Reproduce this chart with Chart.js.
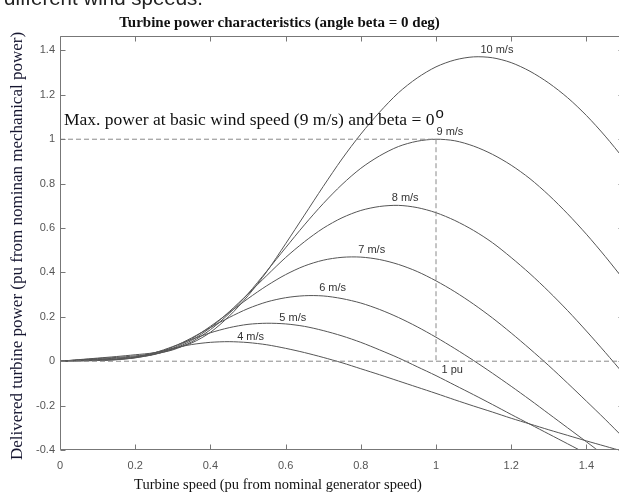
<!DOCTYPE html>
<html><head><meta charset="utf-8">
<script src="https://cdn.jsdelivr.net/npm/chart.js@4"></script>
<style>
html,body{margin:0;padding:0;background:#fff;overflow:hidden;}
#wrap{position:relative;width:619px;height:493px;overflow:hidden;background:#fff;}
canvas{position:absolute;left:0;top:0;}
.t{position:absolute;white-space:nowrap;text-align:center;}
</style></head><body>
<div id="wrap">
<canvas id="c" width="640" height="493" style="width:640px;height:493px"></canvas>
<div class="t" style="left:4px;top:-12px;font:20.5px 'Liberation Sans',Arial,sans-serif;line-height:20px;color:#222;text-align:left">different wind speeds.</div>
<div class="t" style="left:0;width:559px;top:13px;font:bold 15px 'Liberation Serif','Times New Roman',serif;line-height:18px;color:#111">Turbine power characteristics (angle beta = 0 deg)</div>
<div class="t" style="left:0;width:556px;top:475px;font:14.5px 'Liberation Serif','Times New Roman',serif;line-height:18px;color:#111">Turbine speed (pu from nominal generator speed)</div>
<div class="t" style="left:-233px;width:500px;top:236px;height:20px;font:17px 'Liberation Serif','Times New Roman',serif;line-height:20px;color:#161630;transform:rotate(-90deg)">Delivered turbine power (pu from nominan mechanical power)</div>
</div>
<script>
const speeds = [0,0.05,0.1,0.15,0.2,0.25,0.3,0.35,0.4,0.45,0.5,0.55,0.6,0.65,0.7,0.75,0.8,0.85,0.9,0.95,1,1.05,1.1,1.15,1.2,1.25,1.3,1.35,1.4,1.45,1.5];
const power4  = [0,0.001,0.003,0.007,0.019,0.038,0.058,0.075,0.085,0.088,0.084,0.074,0.058,0.039,0.017,-0.007,-0.034,-0.061,-0.089,-0.117,-0.145,-0.174,-0.202,-0.229,-0.257,-0.283,-0.309,-0.334,-0.359,-0.383,-0.407];
const power5  = [0,0.002,0.004,0.007,0.016,0.037,0.066,0.098,0.128,0.151,0.166,0.171,0.168,0.157,0.138,0.114,0.085,0.051,0.015,-0.025,-0.065,-0.108,-0.151,-0.195,-0.240,-0.284,-0.328,-0.372,-0.416,-0.458,-0.501];
const power6  = [0,0.003,0.005,0.008,0.015,0.032,0.064,0.105,0.152,0.197,0.237,0.267,0.286,0.295,0.294,0.282,0.262,0.233,0.197,0.155,0.108,0.057,0.003,-0.054,-0.113,-0.174,-0.237,-0.300,-0.363,-0.427,-0.491];
const power7  = [0,0.004,0.007,0.011,0.017,0.030,0.058,0.101,0.157,0.219,0.282,0.340,0.390,0.429,0.455,0.468,0.469,0.458,0.436,0.404,0.362,0.313,0.257,0.195,0.127,0.055,-0.020,-0.099,-0.180,-0.262,-0.347];
const power8  = [0,0.005,0.009,0.014,0.020,0.031,0.054,0.094,0.151,0.223,0.303,0.386,0.467,0.538,0.599,0.646,0.679,0.697,0.702,0.692,0.669,0.634,0.589,0.534,0.467,0.394,0.314,0.228,0.136,0.040,-0.059];
const power9  = [0,0.006,0.012,0.017,0.024,0.033,0.051,0.087,0.142,0.215,0.304,0.406,0.511,0.614,0.710,0.796,0.869,0.925,0.967,0.991,1.000,0.993,0.969,0.932,0.883,0.822,0.748,0.664,0.572,0.472,0.366];
const power10 = [0,0.007,0.014,0.021,0.029,0.038,0.055,0.082,0.130,0.203,0.295,0.404,0.529,0.658,0.787,0.911,1.023,1.122,1.209,1.276,1.326,1.357,1.371,1.367,1.345,1.306,1.253,1.187,1.107,1.014,0.911];
const windLabels = ['4 m/s','5 m/s','6 m/s','7 m/s','8 m/s','9 m/s','10 m/s'];
const labelX = [0.507,0.619,0.725,0.829,0.918,1.037,1.162];
const labelY = [0.110,0.193,0.328,0.501,0.734,1.034,1.402];
const refLineX = [0,1,1];
const refLineY = [1,1,0];
const zeroLineX = [0,1.5];
const zeroLineY = [0,0];
const xTicks = [0,0.2,0.4,0.6,0.8,1,1.2,1.4];
const yTicks = [-0.4,-0.2,0,0.2,0.4,0.6,0.8,1,1.2,1.4];
const annotationText = 'Max. power at basic wind speed (9 m/s) and beta = 0';
const annotationSup = 'o';
const annotationPos = [0.0106, 1.064];
const puLabel = '1 pu';
const puPos = [1.043, -0.040];

const series = [power4,power5,power6,power7,power8,power9,power10];
const fmt = v => String(Math.round(v*10)/10);
const pts = (xs, ys) => xs.map((v,i)=>({x:v,y:ys[i]}));

const datasets = [
  {data: pts(zeroLineX, zeroLineY), showLine:true, borderColor:'#8a8a8a', borderWidth:1, borderDash:[5,3], pointRadius:0, tension:0},
  {data: pts(refLineX, refLineY), showLine:true, borderColor:'#8a8a8a', borderWidth:1, borderDash:[5,3], pointRadius:0, tension:0}
].concat(series.map(arr => ({
  data: pts(speeds, arr), showLine:true, borderColor:'#555', borderWidth:1, pointRadius:0, tension:0.3
})));

const overlay = {
  id:'overlay',
  afterDatasetsDraw(chart){
    const {ctx, chartArea:a, scales:{x, y}} = chart;
    ctx.save();
    ctx.strokeStyle = '#777'; ctx.lineWidth = 1;
    const L = Math.round(a.left)+0.5, R = Math.round(a.right)-0.5, T = Math.round(a.top)+0.5, B = Math.round(a.bottom)-0.5;
    ctx.beginPath();
    ctx.rect(L, T, R-L, B-T);
    xTicks.forEach(v=>{ const p = Math.round(x.getPixelForValue(v))+0.5; ctx.moveTo(p,B); ctx.lineTo(p,B-5); ctx.moveTo(p,T); ctx.lineTo(p,T+5); });
    yTicks.forEach(v=>{ const p = Math.round(y.getPixelForValue(v))+0.5; ctx.moveTo(L,p); ctx.lineTo(L+5,p); ctx.moveTo(R,p); ctx.lineTo(R-5,p); });
    ctx.stroke();
    // curve labels
    ctx.fillStyle = '#333';
    ctx.font = "11px 'Liberation Sans', Arial, sans-serif";
    ctx.textAlign = 'center'; ctx.textBaseline = 'middle';
    windLabels.forEach((t,i)=> ctx.fillText(t, x.getPixelForValue(labelX[i]), y.getPixelForValue(labelY[i])));
    ctx.fillText(puLabel, x.getPixelForValue(puPos[0]), y.getPixelForValue(puPos[1]));
    // annotation
    ctx.fillStyle = '#111';
    ctx.textAlign = 'left'; ctx.textBaseline = 'alphabetic';
    ctx.font = "17.5px 'Liberation Serif', 'Times New Roman', serif";
    const ax = x.getPixelForValue(annotationPos[0]), ay = y.getPixelForValue(annotationPos[1]);
    ctx.fillText(annotationText, ax, ay);
    const w = ctx.measureText(annotationText).width;
    ctx.font = "15px 'Liberation Sans', Arial, sans-serif";
    ctx.fillText(annotationSup, ax + w + 1, ay - 7.5);
    ctx.restore();
  }
};

const tickFont = {family:"'Liberation Sans', Arial, sans-serif", size:11};
new Chart(document.getElementById('c'), {
  type:'scatter',
  data:{datasets},
  options:{
    responsive:false, animation:false, devicePixelRatio:1,
    layout:{padding:{top:36, right:16, left:0, bottom:0}},
    plugins:{legend:{display:false}, tooltip:{enabled:false}, title:{display:false}},
    scales:{
      x:{type:'linear', min:0, max:1.5,
         grid:{display:false, drawTicks:false}, border:{display:false},
         ticks:{includeBounds:false, padding:9, color:'#555', font:tickFont, callback:v=>fmt(v)},
         afterBuildTicks:s=>{ s.ticks = xTicks.map(v=>({value:v})); },
         afterFit:s=>{ s.height = 43; }},
      y:{type:'linear', min:-0.4, max:1.465,
         grid:{display:false, drawTicks:false}, border:{display:false},
         ticks:{includeBounds:false, padding:5, color:'#555', font:tickFont, callback:v=>fmt(v)},
         afterBuildTicks:s=>{ s.ticks = yTicks.map(v=>({value:v})); },
         afterFit:s=>{ s.width = 60; }}
    }
  },
  plugins:[overlay]
});
</script>
</body></html>
